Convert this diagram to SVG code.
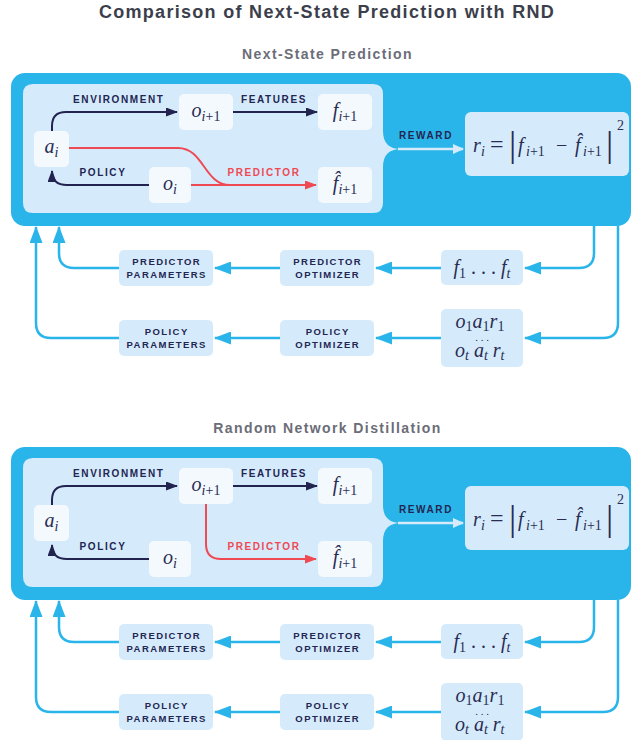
<svg xmlns="http://www.w3.org/2000/svg" width="632" height="740" viewBox="0 0 632 740">
<style>
.title{font-family:"Liberation Sans",Arial,sans-serif;font-weight:bold;font-size:18px;fill:#3b3e4b;letter-spacing:1.3px}
.sub{font-family:"Liberation Sans",Arial,sans-serif;font-weight:bold;font-size:14px;fill:#6b6d78;letter-spacing:1.4px}
.outer{fill:#29b5e9}
.inner{fill:#d5ebfc}
.node{fill:#f4f9fe}
.lbox{fill:#d5ebfc}
.lbl{font-family:"Liberation Sans",Arial,sans-serif;font-weight:bold;font-size:9.5px;fill:#232652;letter-spacing:1.45px}
.elbl{font-family:"Liberation Sans",Arial,sans-serif;font-weight:bold;font-size:10px;fill:#232652;letter-spacing:1.6px}
.rlbl{font-family:"Liberation Sans",Arial,sans-serif;font-weight:bold;font-size:10px;fill:#ef4a53;letter-spacing:1.6px}
.m{font-family:"Liberation Serif","Times New Roman",serif;font-style:italic;font-size:20px;fill:#2a2c52}
.mr{font-style:normal}
.s{font-size:14px}
.nv{fill:none;stroke:#22234f;stroke-width:2}
.rd{fill:none;stroke:#ef4a53;stroke-width:2}
.bl{fill:none;stroke:#2ab5ea;stroke-width:2.5}
.lt{fill:none;stroke:#d5ebfc;stroke-width:2.5}
</style>
<defs>
<marker id="aNavy" markerUnits="userSpaceOnUse" markerWidth="12" markerHeight="9" refX="11" refY="4.5" orient="auto"><path d="M0,0 L12,4.5 L0,9 z" fill="#22234f"/></marker>
<marker id="aRed" markerUnits="userSpaceOnUse" markerWidth="12" markerHeight="9" refX="11" refY="4.5" orient="auto"><path d="M0,0 L12,4.5 L0,9 z" fill="#ef4a53"/></marker>
<marker id="aBlue" markerUnits="userSpaceOnUse" markerWidth="17" markerHeight="13" refX="16" refY="6.5" orient="auto"><path d="M0,0 L17,6.5 L0,13 z" fill="#2ab5ea"/></marker>
<marker id="aLight" markerUnits="userSpaceOnUse" markerWidth="11" markerHeight="10" refX="10" refY="5" orient="auto"><path d="M0,0 L11,5 L0,10 z" fill="#d5ebfc"/></marker>
</defs>
<rect width="632" height="740" fill="#ffffff"/>
<text class="title" x="327" y="18" text-anchor="middle">Comparison of Next-State Prediction with RND</text>

<!-- ============ PANEL 1 ============ -->
<g id="panel-nsp">
<text class="sub" x="327.5" y="59" text-anchor="middle">Next-State Prediction</text>
<g id="nsp-frame">
<rect class="outer" x="11" y="73" width="620" height="153" rx="14"/>
<path class="inner" d="M33,84 H373 Q383,84 383,94 V131 Q383,149 401,149 Q383,149 383,167 V203 Q383,213 373,213 H33 Q23,213 23,203 V94 Q23,84 33,84 Z"/>
</g>
<g id="nsp-connectors">
<path class="nv" d="M52,131 V126 Q52,112 66,112 H177" marker-end="url(#aNavy)"/>
<path class="nv" d="M233,112 H317" marker-end="url(#aNavy)"/>
<path class="nv" d="M149,185 H67 Q52,185 52,171" marker-end="url(#aNavy)"/>
<path class="rd" d="M69,148 H178 C204,148 204,185 230,185"/>
<path class="rd" d="M191,185 H316" marker-end="url(#aRed)"/>
<path class="lt" d="M398,149 H463" marker-end="url(#aLight)"/>
<path class="bl" d="M119,268 H74 Q59,268 59,253 V227" marker-end="url(#aBlue)"/>
<path class="bl" d="M119,338 H51 Q36,338 36,323 V227" marker-end="url(#aBlue)"/>
<path class="bl" d="M280,268 H215" marker-end="url(#aBlue)"/>
<path class="bl" d="M441,268 H376" marker-end="url(#aBlue)"/>
<path class="bl" d="M594,226 V253 Q594,268 579,268 H525" marker-end="url(#aBlue)"/>
<path class="bl" d="M280,338 H215" marker-end="url(#aBlue)"/>
<path class="bl" d="M441,338 H376" marker-end="url(#aBlue)"/>
<path class="bl" d="M618,226 V323 Q618,338 603,338 H525" marker-end="url(#aBlue)"/>
<text class="elbl" x="118.8" y="103" text-anchor="middle">ENVIRONMENT</text>
<text class="elbl" x="274" y="103" text-anchor="middle">FEATURES</text>
<text class="elbl" x="103" y="176" text-anchor="middle">POLICY</text>
<text class="rlbl" x="264" y="176" text-anchor="middle">PREDICTOR</text>
<text class="elbl" x="426" y="139" text-anchor="middle">REWARD</text>
</g>
<g id="nsp-a-i"><rect class="node" x="34" y="131" width="35" height="36" rx="5"/><text class="m" x="51.5" y="153" text-anchor="middle">a<tspan class="s" dy="4">i</tspan></text></g>
<g id="nsp-o-i1"><rect class="node" x="179" y="94" width="54" height="36" rx="5"/><text class="m" x="206" y="117" text-anchor="middle">o<tspan class="s" dy="4">i</tspan><tspan class="s mr">+1</tspan></text></g>
<g id="nsp-f-i1"><rect class="node" x="318" y="94" width="54" height="36" rx="5"/><text class="m" x="345" y="117" text-anchor="middle">f<tspan class="s" dy="4">i</tspan><tspan class="s mr">+1</tspan></text></g>
<g id="nsp-o-i"><rect class="node" x="149" y="167" width="42" height="36" rx="5"/><text class="m" x="170" y="190" text-anchor="middle">o<tspan class="s" dy="4">i</tspan></text></g>
<g id="nsp-fhat-i1"><rect class="node" x="318" y="167" width="54" height="36" rx="5"/><text class="m" x="345" y="190" text-anchor="middle">f̂<tspan class="s" dy="4">i</tspan><tspan class="s mr">+1</tspan></text></g>
<g id="nsp-reward"><rect class="lbox" x="465" y="112" width="164" height="64" rx="6"/>
<text class="m" y="152"><tspan x="473">r</tspan><tspan class="s" x="481" dy="4">i</tspan><tspan class="mr" x="490" dy="-4" font-size="24">=</tspan><tspan class="mr" x="509" dy="4" font-size="36" font-style="normal">|</tspan><tspan x="518" dy="-4">f</tspan><tspan class="s" x="526" dy="4">i</tspan><tspan class="s mr">+1</tspan><tspan class="mr" x="556" dy="-4">−</tspan><tspan x="575">f̂</tspan><tspan class="s" x="583" dy="4">i</tspan><tspan class="s mr">+1</tspan><tspan class="mr" x="606" dy="0" font-size="36" font-style="normal">|</tspan><tspan class="s mr" x="617" dy="-26">2</tspan></text></g>
<g id="nsp-pred-params"><rect class="lbox" x="119" y="250" width="94" height="36" rx="5"/><text class="lbl" x="166.7" y="265" text-anchor="middle">PREDICTOR</text><text class="lbl" x="166.7" y="278" text-anchor="middle">PARAMETERS</text></g>
<g id="nsp-pred-opt"><rect class="lbox" x="280" y="250" width="94" height="36" rx="5"/><text class="lbl" x="327.7" y="265" text-anchor="middle">PREDICTOR</text><text class="lbl" x="327.7" y="278" text-anchor="middle">OPTIMIZER</text></g>
<g id="nsp-features"><rect class="lbox" x="441" y="250" width="82" height="35" rx="5"/><text class="m" x="482" y="274" text-anchor="middle">f<tspan class="s mr" dy="4">1</tspan><tspan class="mr" dy="-4"> . . . </tspan>f<tspan class="s" dy="4">t</tspan></text></g>
<g id="nsp-pol-params"><rect class="lbox" x="119" y="320" width="94" height="36" rx="5"/><text class="lbl" x="166.7" y="335" text-anchor="middle">POLICY</text><text class="lbl" x="166.7" y="348" text-anchor="middle">PARAMETERS</text></g>
<g id="nsp-pol-opt"><rect class="lbox" x="280" y="320" width="94" height="36" rx="5"/><text class="lbl" x="327.7" y="335" text-anchor="middle">POLICY</text><text class="lbl" x="327.7" y="348" text-anchor="middle">OPTIMIZER</text></g>
<g id="nsp-rollouts"><rect class="lbox" x="441" y="309" width="82" height="58" rx="5"/><text class="m" text-anchor="middle"><tspan x="480" y="328">o</tspan><tspan class="s mr" dy="3">1</tspan><tspan dy="-3">a</tspan><tspan class="s mr" dy="3">1</tspan><tspan dy="-3">r</tspan><tspan class="s mr" dy="3">1</tspan><tspan class="mr" x="482" y="341" font-size="11">. . .</tspan><tspan x="455" y="357" text-anchor="start">o</tspan><tspan class="s" dy="3">t</tspan><tspan dy="-3"> a</tspan><tspan class="s" dy="3">t</tspan><tspan dy="-3"> r</tspan><tspan class="s" dy="3">t</tspan></text></g>
</g>

<!-- ============ PANEL 2 ============ -->
<g id="panel-rnd" transform="translate(0,374)">
<text class="sub" x="327.5" y="59" text-anchor="middle">Random Network Distillation</text>
<g id="rnd-frame">
<rect class="outer" x="11" y="73" width="620" height="153" rx="14"/>
<path class="inner" d="M33,84 H373 Q383,84 383,94 V131 Q383,149 401,149 Q383,149 383,167 V203 Q383,213 373,213 H33 Q23,213 23,203 V94 Q23,84 33,84 Z"/>
</g>
<g id="rnd-connectors">
<path class="nv" d="M52,131 V126 Q52,112 66,112 H177" marker-end="url(#aNavy)"/>
<path class="nv" d="M233,112 H317" marker-end="url(#aNavy)"/>
<path class="nv" d="M149,185 H67 Q52,185 52,171" marker-end="url(#aNavy)"/>
<path class="rd" d="M206,130 V170 Q206,185 221,185 H316" marker-end="url(#aRed)"/>
<path class="lt" d="M398,149 H463" marker-end="url(#aLight)"/>
<path class="bl" d="M119,268 H74 Q59,268 59,253 V227" marker-end="url(#aBlue)"/>
<path class="bl" d="M119,338 H51 Q36,338 36,323 V227" marker-end="url(#aBlue)"/>
<path class="bl" d="M280,268 H215" marker-end="url(#aBlue)"/>
<path class="bl" d="M441,268 H376" marker-end="url(#aBlue)"/>
<path class="bl" d="M594,226 V253 Q594,268 579,268 H525" marker-end="url(#aBlue)"/>
<path class="bl" d="M280,338 H215" marker-end="url(#aBlue)"/>
<path class="bl" d="M441,338 H376" marker-end="url(#aBlue)"/>
<path class="bl" d="M618,226 V323 Q618,338 603,338 H525" marker-end="url(#aBlue)"/>
<text class="elbl" x="118.8" y="103" text-anchor="middle">ENVIRONMENT</text>
<text class="elbl" x="274" y="103" text-anchor="middle">FEATURES</text>
<text class="elbl" x="103" y="176" text-anchor="middle">POLICY</text>
<text class="rlbl" x="264" y="176" text-anchor="middle">PREDICTOR</text>
<text class="elbl" x="426" y="139" text-anchor="middle">REWARD</text>
</g>
<g id="rnd-a-i"><rect class="node" x="34" y="131" width="35" height="36" rx="5"/><text class="m" x="51.5" y="153" text-anchor="middle">a<tspan class="s" dy="4">i</tspan></text></g>
<g id="rnd-o-i1"><rect class="node" x="179" y="94" width="54" height="36" rx="5"/><text class="m" x="206" y="117" text-anchor="middle">o<tspan class="s" dy="4">i</tspan><tspan class="s mr">+1</tspan></text></g>
<g id="rnd-f-i1"><rect class="node" x="318" y="94" width="54" height="36" rx="5"/><text class="m" x="345" y="117" text-anchor="middle">f<tspan class="s" dy="4">i</tspan><tspan class="s mr">+1</tspan></text></g>
<g id="rnd-o-i"><rect class="node" x="149" y="167" width="42" height="36" rx="5"/><text class="m" x="170" y="190" text-anchor="middle">o<tspan class="s" dy="4">i</tspan></text></g>
<g id="rnd-fhat-i1"><rect class="node" x="318" y="167" width="54" height="36" rx="5"/><text class="m" x="345" y="190" text-anchor="middle">f̂<tspan class="s" dy="4">i</tspan><tspan class="s mr">+1</tspan></text></g>
<g id="rnd-reward"><rect class="lbox" x="465" y="112" width="164" height="64" rx="6"/>
<text class="m" y="152"><tspan x="473">r</tspan><tspan class="s" x="481" dy="4">i</tspan><tspan class="mr" x="490" dy="-4" font-size="24">=</tspan><tspan class="mr" x="509" dy="4" font-size="36" font-style="normal">|</tspan><tspan x="518" dy="-4">f</tspan><tspan class="s" x="526" dy="4">i</tspan><tspan class="s mr">+1</tspan><tspan class="mr" x="556" dy="-4">−</tspan><tspan x="575">f̂</tspan><tspan class="s" x="583" dy="4">i</tspan><tspan class="s mr">+1</tspan><tspan class="mr" x="606" dy="0" font-size="36" font-style="normal">|</tspan><tspan class="s mr" x="617" dy="-26">2</tspan></text></g>
<g id="rnd-pred-params"><rect class="lbox" x="119" y="250" width="94" height="36" rx="5"/><text class="lbl" x="166.7" y="265" text-anchor="middle">PREDICTOR</text><text class="lbl" x="166.7" y="278" text-anchor="middle">PARAMETERS</text></g>
<g id="rnd-pred-opt"><rect class="lbox" x="280" y="250" width="94" height="36" rx="5"/><text class="lbl" x="327.7" y="265" text-anchor="middle">PREDICTOR</text><text class="lbl" x="327.7" y="278" text-anchor="middle">OPTIMIZER</text></g>
<g id="rnd-features"><rect class="lbox" x="441" y="250" width="82" height="35" rx="5"/><text class="m" x="482" y="274" text-anchor="middle">f<tspan class="s mr" dy="4">1</tspan><tspan class="mr" dy="-4"> . . . </tspan>f<tspan class="s" dy="4">t</tspan></text></g>
<g id="rnd-pol-params"><rect class="lbox" x="119" y="320" width="94" height="36" rx="5"/><text class="lbl" x="166.7" y="335" text-anchor="middle">POLICY</text><text class="lbl" x="166.7" y="348" text-anchor="middle">PARAMETERS</text></g>
<g id="rnd-pol-opt"><rect class="lbox" x="280" y="320" width="94" height="36" rx="5"/><text class="lbl" x="327.7" y="335" text-anchor="middle">POLICY</text><text class="lbl" x="327.7" y="348" text-anchor="middle">OPTIMIZER</text></g>
<g id="rnd-rollouts"><rect class="lbox" x="441" y="309" width="82" height="58" rx="5"/><text class="m" text-anchor="middle"><tspan x="480" y="328">o</tspan><tspan class="s mr" dy="3">1</tspan><tspan dy="-3">a</tspan><tspan class="s mr" dy="3">1</tspan><tspan dy="-3">r</tspan><tspan class="s mr" dy="3">1</tspan><tspan class="mr" x="482" y="341" font-size="11">. . .</tspan><tspan x="455" y="357" text-anchor="start">o</tspan><tspan class="s" dy="3">t</tspan><tspan dy="-3"> a</tspan><tspan class="s" dy="3">t</tspan><tspan dy="-3"> r</tspan><tspan class="s" dy="3">t</tspan></text></g>
</g>
</svg>
